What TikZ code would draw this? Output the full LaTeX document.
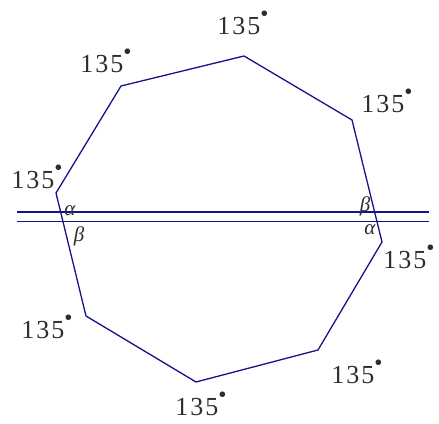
\documentclass[tikz,border=0pt]{standalone}
\usepackage{fontspec}
\setmainfont{Liberation Serif}
\newcommand{\deglbl}{1\kern2pt3\kern2pt5\kern0pt\raisebox{0.5em}{\scalebox{0.9}{\textbullet}}}
\definecolor{poly}{RGB}{20,20,140}
\definecolor{txt}{RGB}{45,45,45}
\tikzset{
  edge/.style={draw=poly, line width=1.3pt, line join=miter},
  lbl/.style={text=txt, font=\fontsize{26}{26}\selectfont, inner sep=0pt},
  greek/.style={text=txt, font=\fontsize{21}{21}\selectfont\itshape, inner sep=0pt}
}
\begin{document}
\begin{tikzpicture}[x=1pt,y=1pt]
\useasboundingbox (0,0) rectangle (439,423);
\coordinate (v1) at (244,367);
\coordinate (v2) at (352,303);
\coordinate (v3) at (382,181);
\coordinate (v4) at (318,73);
\coordinate (v5) at (196,41);
\coordinate (v6) at (86,107);
\coordinate (v7) at (56,230);
\coordinate (v8) at (121,337);
\draw[edge] (v1) -- (v2) -- (v3) -- (v4) -- (v5) -- (v6) -- (v7) -- (v8) -- cycle;
\coordinate (a1) at (17,211);
\coordinate (a2) at (429,211);
\coordinate (b1) at (17,201.5);
\coordinate (b2) at (429,201.5);
\draw[edge] (a1) -- (a2);
\draw[edge] (b1) -- (b2);
\node[lbl] (t1) at (243,400) {\deglbl};
\node[lbl] (t2) at (387,322) {\deglbl};
\node[lbl] (t3) at (409,166) {\deglbl};
\node[lbl] (t4) at (357,51) {\deglbl};
\node[lbl] (t5) at (201,19) {\deglbl};
\node[lbl] (t6) at (47,96) {\deglbl};
\node[lbl] (t7) at (37,246) {\deglbl};
\node[lbl] (t8) at (106,362) {\deglbl};
\node[greek] (ga1) at (70,212) {α};
\node[greek] (gb1) at (79,187) {β};
\node[greek] (gb2) at (365,217) {β};
\node[greek] (ga2) at (370,193) {α};
\end{tikzpicture}
\end{document}
